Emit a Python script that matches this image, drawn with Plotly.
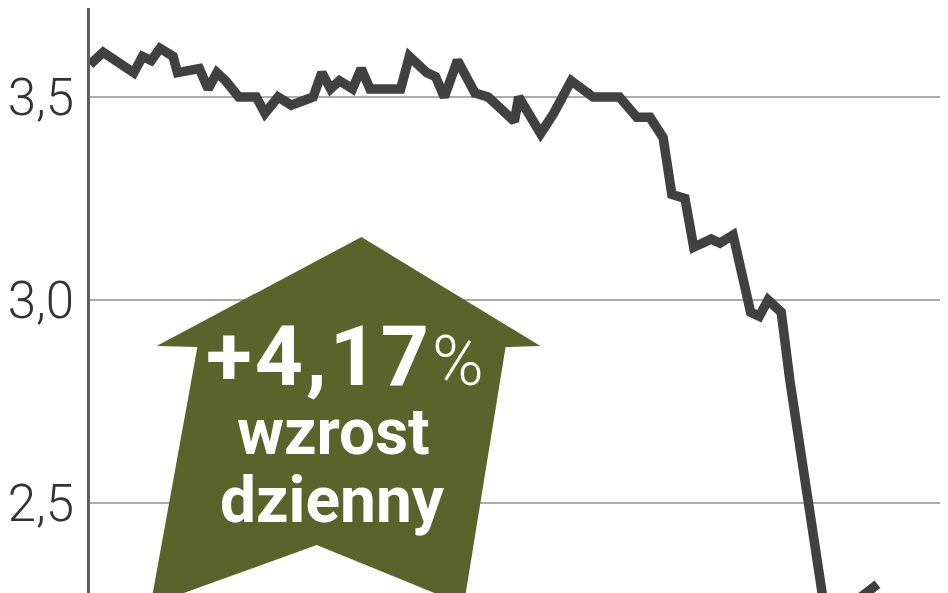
import plotly.graph_objects as go

# trading session index and closing price (zł)
days = [0, 3, 10, 12, 14, 16, 19, 20, 25, 27, 29, 31, 34, 38, 40, 43, 46, 50, 51,
        53, 55, 57, 60, 62, 64, 71, 73, 77, 79, 81, 84, 88, 91, 97, 98, 103, 106,
        110, 115, 121, 125, 128, 131, 133, 136, 138, 142, 144, 147, 151, 153, 155,
        158, 160, 164, 170, 174, 180]
price = [3.58, 3.61, 3.56, 3.60, 3.59, 3.62, 3.60, 3.56, 3.57, 3.52, 3.56, 3.54,
         3.50, 3.50, 3.46, 3.50, 3.48, 3.50, 3.50, 3.56, 3.52, 3.54, 3.52, 3.57,
         3.52, 3.52, 3.60, 3.56, 3.55, 3.50, 3.59, 3.51, 3.50, 3.44, 3.50, 3.41,
         3.46, 3.54, 3.50, 3.50, 3.45, 3.45, 3.40, 3.26, 3.25, 3.13, 3.15, 3.14,
         3.16, 2.97, 2.96, 3.00, 2.97, 2.80, 2.50, 2.09, 2.25, 2.30]

y_ticks = [2.5, 3.0, 3.5]
y_labels = ["2,5", "3,0", "3,5"]

badge_lines = ['<span style="letter-spacing:3px">+4,17</span>'
               '<span style="font-weight:300;font-size:70px">%</span>',
               "wzrost", "dzienny"]

W, H = 948, 593
OFF = 8          # page body margin in the browser
L = 85 - OFF     # y axis sits at page x = 85


def px(x):  # page pixel -> paper x
    return (x - OFF - L) / (W - L)


def py(y):  # page pixel -> paper y
    return 1 - (y - OFF) / H


fig = go.Figure()
fig.add_trace(go.Scatter(
    x=days, y=price, mode="lines",
    line=dict(color="#414141", width=9.5),
    hoverinfo="skip", showlegend=False,
))

# olive "up" arrow badge
arrow = [(358, 237), (538, 346), (503, 347), (461, 605), (313, 545),
         (146, 605), (193, 347), (152, 346)]
path = "M " + " L ".join(f"{px(a):.4f},{py(b):.4f}" for a, b in arrow) + " Z"
fig.add_shape(type="path", path=path, xref="paper", yref="paper",
              fillcolor="#5a6329", line=dict(width=0), layer="above")

for txt, (cx, cy, size) in zip(badge_lines, [(341, 356, 84), (330, 432, 64), (329, 500, 64)]):
    fig.add_annotation(x=px(cx), y=py(cy), xref="paper", yref="paper",
                       text=txt, showarrow=False, xanchor="center", yanchor="middle",
                       font=dict(family="Roboto", size=size, color="white", weight="bold"))

fig.update_layout(
    width=W, height=H,
    margin=dict(l=L, r=0, t=0, b=0),
    paper_bgcolor="white", plot_bgcolor="white",
    separators=", ",
    xaxis=dict(range=[0, (W - L) / 4.4], visible=False),
    yaxis=dict(range=[3.5 - (H + OFF - 97) / 406, 3.5 + (97 - OFF) / 406],
               tickvals=y_ticks, ticktext=y_labels,
               showgrid=True, gridcolor="#ababab", gridwidth=2,
               zeroline=False, showline=True, linecolor="#5e5e5e", linewidth=2.5,
               ticks="", ticklabelstandoff=3,
               tickfont=dict(family="Roboto", size=51, color="#333333", weight=300)),
)

fig.write_html("out.html")
